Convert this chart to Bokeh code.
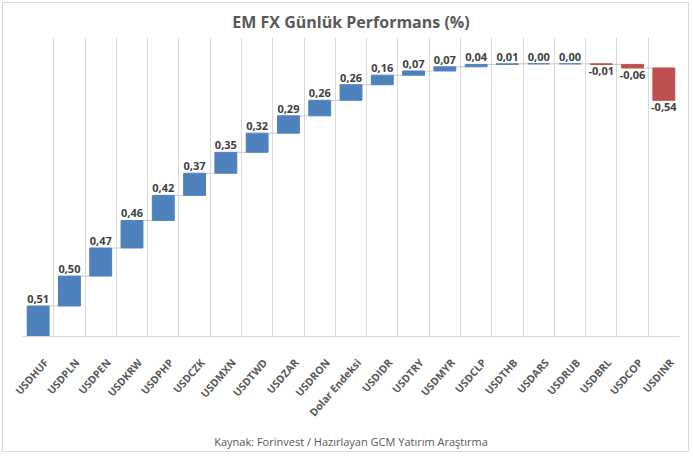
import numpy as np
from bokeh.plotting import figure
from bokeh.models import ColumnDataSource, Range1d, FixedTicker, Title
from bokeh.core.properties import value
from bokeh.embed import file_html
from bokeh.resources import INLINE

categories = ["USDHUF", "USDPLN", "USDPEN", "USDKRW", "USDPHP", "USDCZK", "USDMXN",
              "USDTWD", "USDZAR", "USDRON", "Dolar Endeksi", "USDIDR", "USDTRY",
              "USDMYR", "USDCLP", "USDTHB", "USDARS", "USDRUB", "USDBRL", "USDCOP", "USDINR"]
changes = [0.51, 0.50, 0.47, 0.46, 0.42, 0.37, 0.35, 0.32, 0.29, 0.26, 0.26, 0.16, 0.07,
           0.07, 0.04, 0.01, 0.00, 0.00, -0.01, -0.06, -0.54]
title_text = "EM FX Günlük Performans (%)"
source_text = "Kaynak: Forinvest / Hazırlayan GCM Yatırım Araştırma"

FONT = "Open Sans"
BLUE = "#4F81BD"
RED = "#C0504D"
GRID = "#D9D9D9"

n = len(categories)
xs = np.arange(n)
chg = np.array(changes)
ends = np.cumsum(chg)
starts = ends - chg
bottoms = np.minimum(starts, ends)
tops = np.maximum(starts, ends)
colors = [BLUE if c >= 0 else RED for c in changes]
labels = [f"{c:.2f}".replace(".", ",") for c in changes]

src = ColumnDataSource(dict(x=xs, bottom=bottoms, top=tops, color=colors, label=labels))
pos = [i for i, c in enumerate(changes) if c >= 0]
neg = [i for i, c in enumerate(changes) if c < 0]
src_pos = ColumnDataSource(dict(x=xs[pos], y=tops[pos], label=[labels[i] for i in pos]))
src_neg = ColumnDataSource(dict(x=xs[neg], y=bottoms[neg], label=[labels[i] for i in neg]))
src_conn = ColumnDataSource(dict(x0=xs[:-1] + 0.35, x1=xs[1:] - 0.35, y=ends[:-1]))

p = figure(width=687, height=450, x_range=Range1d(-0.5, n - 0.5), y_range=Range1d(0, 5),
           output_backend="svg", toolbar_location=None,
           min_border_left=19, min_border_right=11, min_border_top=34, min_border_bottom=112)
p.outline_line_color = None
p.styles = {"border": "1px solid #D9D9D9", "margin": "2px"}

p.title.text = title_text
p.title.align = "center"
p.title.text_font = FONT
p.title.text_font_size = "16px"
p.title.text_font_style = "bold"
p.title.text_color = "#595959"
p.title.offset = -4

p.yaxis.visible = False
p.ygrid.grid_line_color = None
p.xgrid.ticker = FixedTicker(ticks=list(np.arange(n + 1) - 0.5))
p.xgrid.grid_line_color = GRID

# category labels: anchored slightly right of the category centre, as in the original
label_shift = 0.25
label_ticks = [float(i) + label_shift for i in range(n)]
ax = p.xaxis[0]
ax.ticker = FixedTicker(ticks=label_ticks)
ax.major_label_overrides = {t: c for t, c in zip(label_ticks, categories)}
ax.major_label_orientation = 0.85
ax.major_tick_line_color = None
ax.minor_tick_line_color = None
ax.axis_line_color = GRID
ax.major_label_text_font = FONT
ax.major_label_text_font_size = "10.5px"
ax.major_label_text_font_style = "bold"
ax.major_label_text_color = "#595959"
ax.major_label_standoff = 18

cap = Title(text=source_text, align="center", text_font=FONT, text_font_size="11px",
            text_font_style="normal", text_color="#595959")
p.add_layout(cap, "below")

p.segment(x0="x0", y0="y", x1="x1", y1="y", source=src_conn, line_color="#C8C8C8", line_width=1)
p.vbar(x="x", width=0.7, bottom="bottom", top="top", fill_color="color", line_color="color",
       line_width=1, source=src)

p.text(x="x", y="y", text="label", source=src_pos, text_align="center", text_baseline="bottom",
       y_offset=-3, text_font=value(FONT), text_font_size="11px", text_font_style="bold",
       text_color="#404040")
p.text(x="x", y="y", text="label", source=src_neg, text_align="center", text_baseline="top",
       y_offset=3, text_font=value(FONT), text_font_size="11px", text_font_style="bold",
       text_color="#404040")

open("out.html", "w").write(file_html(p, INLINE))
